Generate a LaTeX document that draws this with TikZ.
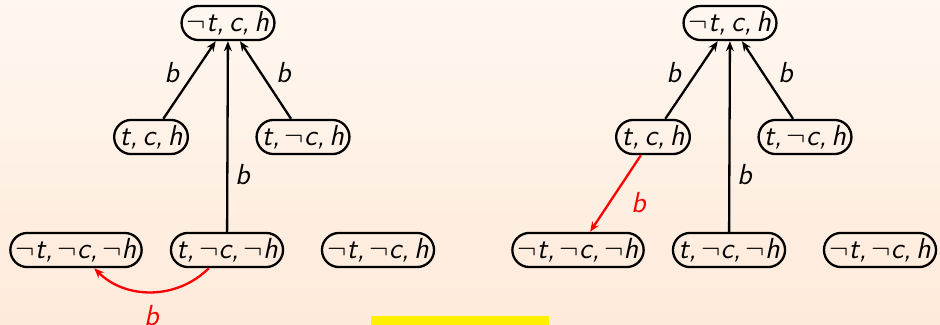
\documentclass[tikz,border=0pt]{standalone}
\usepackage{xcolor}
\usepackage{tikz}
\usetikzlibrary{arrows.meta, shapes.misc}
\definecolor{bgtop}{HTML}{FFF7F0}
\definecolor{bgbottom}{HTML}{FEEADA}
\definecolor{hilite}{HTML}{FFF000}

\newcommand{\nn}{$\neg$}
\newcommand{\cm}{,\,}

\tikzset{
  state/.style={rounded rectangle, draw, line width=1.15pt, inner xsep=0.3pt, inner ysep=2.6pt,
    font=\sffamily\itshape\fontsize{14.5}{16}\selectfont},
  trans/.style={line width=1.15pt, -{Stealth[length=5pt, width=4pt]}},
  lbl/.style={font=\sffamily\itshape\fontsize{14.5}{16}\selectfont},
}

\begin{document}
\begin{tikzpicture}[x=0.5pt, y=-0.5pt]
      \shade[top color=bgtop, bottom color=bgbottom] (0,0) rectangle (940,325);
      \useasboundingbox (0,0) rectangle (940,325);
      \fill[hilite] (371,316) rectangle (549,340);

      % left
      \node[state] (top) at (228,23) {\nn t\cm c\cm h};
      \node[state] (tch) at (151,137) {t\cm c\cm h};
      \node[state] (tnch) at (303,137) {t\cm\nn c\cm h};
      \node[state] (ntncnh) at (76,250) {\nn t\cm\nn c\cm\nn h};
      \node[state] (tncnh) at (227,250) {t\cm\nn c\cm\nn h};
      \node[state] (ntnch) at (378,250) {\nn t\cm\nn c\cm h};
      \draw[trans] (tch) -- node[lbl, pos=0.6, left=4pt] {b} (top);
      \draw[trans] (tnch) -- node[lbl, pos=0.6, right=4pt] {b} (top);
      \draw[trans] (tncnh) -- node[lbl, pos=0.3, right] {b} (top);
      \draw[trans, red] (tncnh) to[bend left=45] node[lbl, midway, below=3pt] {b} (ntncnh);

      % right
      \node[state] (topr) at (730,23) {\nn t\cm c\cm h};
      \node[state] (tchr) at (653,137) {t\cm c\cm h};
      \node[state] (tnchr) at (805,137) {t\cm\nn c\cm h};
      \node[state] (ntncnhr) at (578,250) {\nn t\cm\nn c\cm\nn h};
      \node[state] (tncnhr) at (729,250) {t\cm\nn c\cm\nn h};
      \node[state] (ntnchr) at (880,250) {\nn t\cm\nn c\cm h};
      \draw[trans] (tchr) -- node[lbl, pos=0.6, left=4pt] {b} (topr);
      \draw[trans] (tnchr) -- node[lbl, pos=0.6, right=4pt] {b} (topr);
      \draw[trans] (tncnhr) -- node[lbl, pos=0.3, right] {b} (topr);
      \draw[trans, red] (tchr) -- node[lbl, pos=0.62, right=7pt] {b} (ntncnhr);
    \end{tikzpicture}
\end{document}
